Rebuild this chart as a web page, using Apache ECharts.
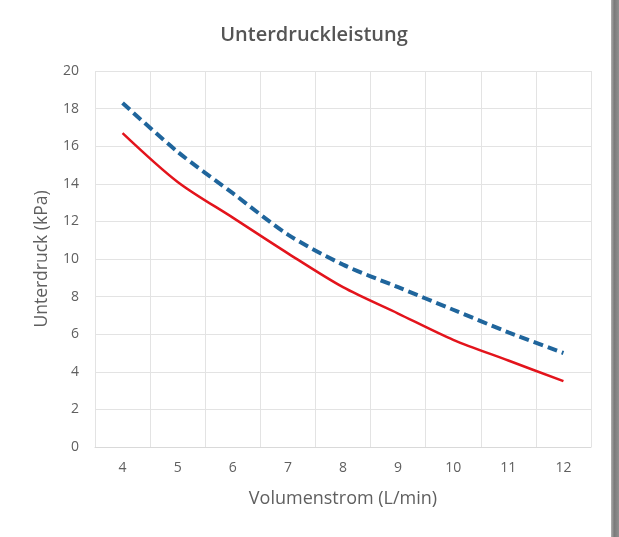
<!DOCTYPE html>
<html>
<head>
<meta charset="utf-8">
<script src="https://cdn.jsdelivr.net/npm/echarts@6/dist/echarts.min.js"></script>
<style>html,body{margin:0;padding:0;background:#fff;}#c{width:619px;height:537px;}</style>
</head>
<body>
<div id="c"></div>
<script>
var categories = ['4','5','6','7','8','9','10','11','12'];
var seriesBlue = [18.3, 15.7, 13.5, 11.3, 9.7, 8.5, 7.3, 6.1, 5.0];
var seriesRed = [16.7, 14.1, 12.2, 10.3, 8.5, 7.1, 5.7, 4.6, 3.5];
var yTicks = [0, 2, 4, 6, 8, 10, 12, 14, 16, 18, 20];

var chart = echarts.init(document.getElementById('c'));
var txt = '#5f5f5f';
var font = 'Open Sans';
chart.setOption({
  animation: false,
  backgroundColor: '#fff',
  title: {
    text: 'Unterdruckleistung',
    left: 309, top: 20, textAlign: 'center',
    textStyle: {fontFamily: font, fontSize: 20, fontWeight: 600, color: '#555555'}
  },
  grid: {left: 95, right: 28, top: 71, bottom: 90},
  xAxis: {
    type: 'category',
    data: categories,
    boundaryGap: true,
    name: 'Volumenstrom (L/min)',
    nameLocation: 'middle',
    nameGap: 43,
    nameTextStyle: {fontFamily: font, fontSize: 18, color: txt},
    axisLine: {show: true, lineStyle: {color: '#d9d9d9'}},
    axisTick: {show: false},
    axisLabel: {fontFamily: font, fontSize: 14, color: txt, margin: 14},
    splitLine: {show: true, lineStyle: {color: '#e3e3e3'}}
  },
  yAxis: {
    type: 'value',
    min: yTicks[0], max: yTicks[yTicks.length - 1], interval: 2,
    name: 'Unterdruck (kPa)',
    nameLocation: 'middle',
    nameGap: 44,
    nameTextStyle: {fontFamily: font, fontSize: 17.5, color: txt},
    axisLine: {show: false},
    axisTick: {show: false},
    axisLabel: {fontFamily: font, fontSize: 14, color: txt, margin: 16},
    splitLine: {show: true, lineStyle: {color: '#e3e3e3'}}
  },
  series: [
    {
      type: 'line', data: seriesBlue, smooth: 0.3, symbol: 'none',
      lineStyle: {color: '#1f659c', width: 4, type: [10, 5]}
    },
    {
      type: 'line', data: seriesRed, smooth: 0.3, symbol: 'none',
      lineStyle: {color: '#e3141c', width: 2.5}
    }
  ],
  graphic: [
    {type: 'rect', shape: {x: 611, y: 0, width: 8, height: 537},
     style: {fill: new echarts.graphic.LinearGradient(0, 0, 1, 0, [{offset: 0, color: '#b0b0b0'}, {offset: 0.4, color: '#7a7a7a'}, {offset: 1, color: '#909090'}])}}
  ]
});
</script>
</body>
</html>
